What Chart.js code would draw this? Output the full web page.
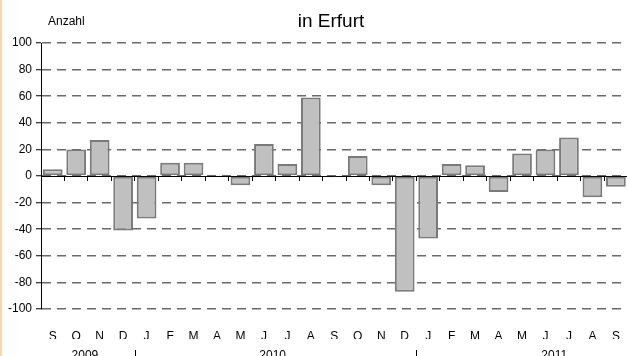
<!DOCTYPE html>
<html>
<head>
<meta charset="utf-8">
<title>Anzahl in Erfurt</title>
<style>
  html, body { margin: 0; padding: 0; background: #fff; overflow: hidden; }
  #wrap { position: relative; width: 627px; height: 356px; overflow: hidden; background: #fff; }
  #chart { position: absolute; left: 0; top: 0; }
  #edge { position: absolute; left: 0; top: 0; width: 2px; height: 356px; background: #fcd6a6; }
</style>
<script src="https://cdn.jsdelivr.net/npm/chart.js@4.4.1/dist/chart.umd.min.js"></script>
</head>
<body>
<div id="wrap">
  <canvas id="chart" width="640" height="370"></canvas>
  <div id="edge"></div>
</div>
<script>
  // data
  const months = ['S', 'O', 'N', 'D', 'J', 'F', 'M', 'A', 'M', 'J', 'J', 'A',
                  'S', 'O', 'N', 'D', 'J', 'F', 'M', 'A', 'M', 'J', 'J', 'A', 'S'];
  const saldo = [5, 20, 27, -41, -32, 10, 10, 1, -7, 24, 9, 59,
                 -1, 15, -7, -87, -47, 9, 8, -12, 17, 20, 29, -16, -8];
  const years = ['2009', '2010', '2011'];
  const yearStart = [0, 4, 16];
  const yearSpan = [4, 12, 12];
  const titleText = 'in Erfurt';
  const unitText = 'Anzahl';

  const FONT = '"Liberation Sans", Arial, sans-serif';

  // title, unit label, year row
  const extraText = {
    id: 'extraText',
    afterDraw(chart) {
      const ctx = chart.ctx;
      const x = chart.scales.x;
      const cat = x.getPixelForValue(1) - x.getPixelForValue(0);
      ctx.save();
      ctx.fillStyle = '#000';
      ctx.textBaseline = 'middle';
      ctx.textAlign = 'center';
      ctx.font = '19px ' + FONT;
      ctx.fillText(titleText, 331, 22);
      ctx.textAlign = 'left';
      ctx.font = '12px ' + FONT;
      ctx.fillText(unitText, 48, 22);

      ctx.textAlign = 'center';
      ctx.font = '12px ' + FONT;
      ctx.strokeStyle = '#000';
      ctx.lineWidth = 1;
      years.forEach((y, i) => {
        const a = x.getPixelForValue(yearStart[i]);
        const b = x.getPixelForValue(yearStart[i] + yearSpan[i] - 1);
        ctx.fillText(y, (a + b) / 2 - 3, 356);
        if (i > 0) {
          const sx = Math.round(a - cat / 2) + 0.5;
          ctx.beginPath();
          ctx.moveTo(sx, 350);
          ctx.lineTo(sx, 362);
          ctx.stroke();
        }
      });
      ctx.restore();
    }
  };

  const ctx = document.getElementById('chart').getContext('2d');
  const chart = new Chart(ctx, {
    type: 'bar',
    data: {
      labels: months,
      datasets: [{
        data: saldo,
        backgroundColor: '#c0c0c0',
        borderColor: '#7a7a7a',
        borderWidth: 2,
        borderSkipped: false,
        barPercentage: 0.84,
        categoryPercentage: 1
      }]
    },
    options: {
      responsive: false,
      animation: false,
      layout: { padding: { left: 0, right: 6, top: 43, bottom: 31 } },
      plugins: {
        legend: { display: false },
        tooltip: { enabled: false }
      },
      scales: {
        x: {
          type: 'category',
          offset: true,
          grid: { display: false, drawTicks: false },
          border: { display: false },
          ticks: { color: '#000', font: { size: 12, family: FONT }, padding: 20, maxRotation: 0, autoSkip: false },
          afterFit: (s) => { s.height = 30; }
        },
        x2: {
          type: 'category',
          axis: 'x',
          position: { y: 0 },
          offset: true,
          z: 1,
          grid: { offset: true, drawOnChartArea: false, drawTicks: true, tickLength: 4, color: '#000', lineWidth: 1 },
          border: { display: true, color: '#000', width: 1 },
          ticks: { display: false }
        },
        y: {
          min: -100,
          max: 100,
          position: 'left',
          ticks: { stepSize: 20, color: '#000', font: { size: 12, family: FONT }, padding: 4 },
          grid: { color: '#6a6a6a', lineWidth: 1.5, tickLength: 5, tickColor: '#000', tickWidth: 1 },
          border: { display: true, color: '#000', width: 1, dash: [9, 6] },
          afterFit: (s) => { s.width = 41; }
        }
      }
    },
    plugins: [extraText]
  });
</script>
</body>
</html>
